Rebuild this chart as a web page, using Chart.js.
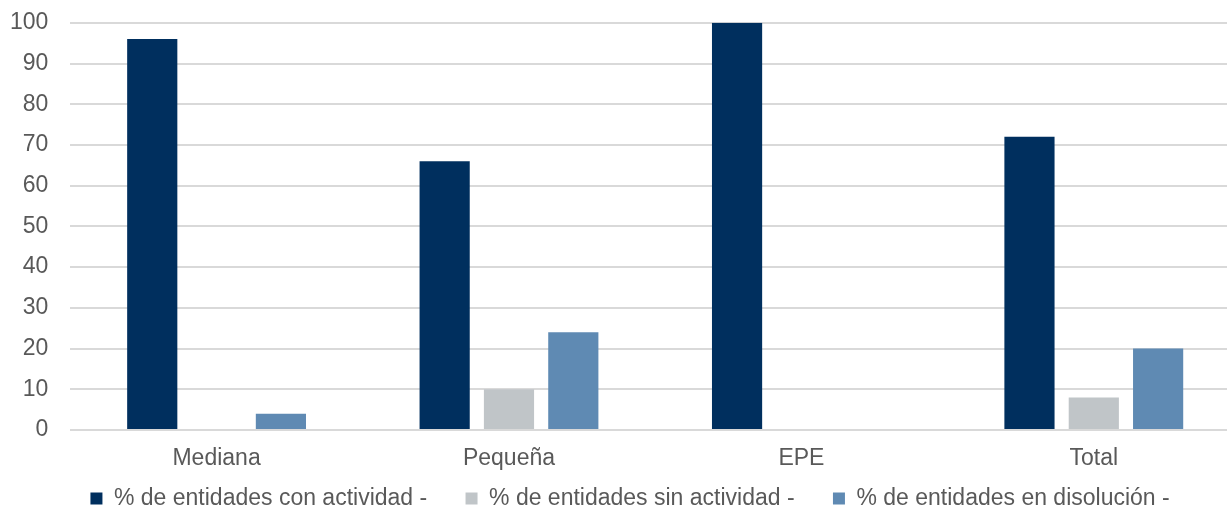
<!DOCTYPE html>
<html>
<head>
<meta charset="utf-8">
<script src="https://cdn.jsdelivr.net/npm/chart.js@4"></script>
<style>
  html, body { margin: 0; padding: 0; background: #fff; overflow: hidden; }
  #wrap { width: 1240px; height: 530px; position: relative; top: -13px; }
</style>
</head>
<body>
<div id="wrap"><canvas id="chart"></canvas></div>
<script>
const categories = ["Mediana", "Pequeña", "EPE", "Total"];
const conActividad = [96, 66, 100, 72];
const sinActividad = [0, 10, 0, 8];
const enDisolucion = [4, 24, 0, 20];
const seriesNames = [
  "% de entidades con actividad -",
  "% de entidades sin actividad -",
  "% de entidades en disolución -"
];
const yTicks = [0, 10, 20, 30, 40, 50, 60, 70, 80, 90, 100];

const textColor = "#595959";
const font = { family: "'Liberation Sans', Arial, sans-serif", size: 23 };
// trailing spaces used as gaps between legend entries
const legendGaps = ["      ", "      ", "           "];

new Chart(document.getElementById("chart"), {
  type: "bar",
  data: {
    labels: categories,
    datasets: [
      { label: seriesNames[0], data: conActividad, backgroundColor: "#002F5E" },
      { label: seriesNames[1], data: sinActividad, backgroundColor: "#C0C5C8" },
      { label: seriesNames[2], data: enDisolucion, backgroundColor: "#5F8AB3" }
    ]
  },
  options: {
    responsive: true,
    maintainAspectRatio: false,
    animation: false,
    layout: { padding: { top: 0, left: -12, right: 0, bottom: -3 } },
    datasets: {
      bar: { categoryPercentage: 0.66, barPercentage: 0.78, borderWidth: 0 }
    },
    plugins: {
      tooltip: { enabled: false },
      legend: {
        position: "bottom",
        align: "end",
        labels: {
          color: textColor,
          font: font,
          boxWidth: 12,
          boxHeight: 12,
          padding: 0,
          generateLabels: chart => {
            const items = Chart.defaults.plugins.legend.labels.generateLabels(chart);
            items.forEach((it, i) => { it.text = it.text + legendGaps[i]; });
            return items;
          }
        }
      }
    },
    scales: {
      x: {
        grid: { display: false, drawTicks: false },
        border: { display: false },
        ticks: { color: textColor, font: { ...font, lineHeight: 1.0 }, padding: 17 }
      },
      y: {
        min: 0,
        max: 100,
        afterBuildTicks: axis => { axis.ticks = yTicks.map(v => ({ value: v })); },
        grid: { color: "#D9D9D9", lineWidth: 2, drawTicks: false },
        border: { display: false },
        ticks: { color: textColor, font: font, padding: 22 }
      }
    }
  }
});
</script>
</body>
</html>
